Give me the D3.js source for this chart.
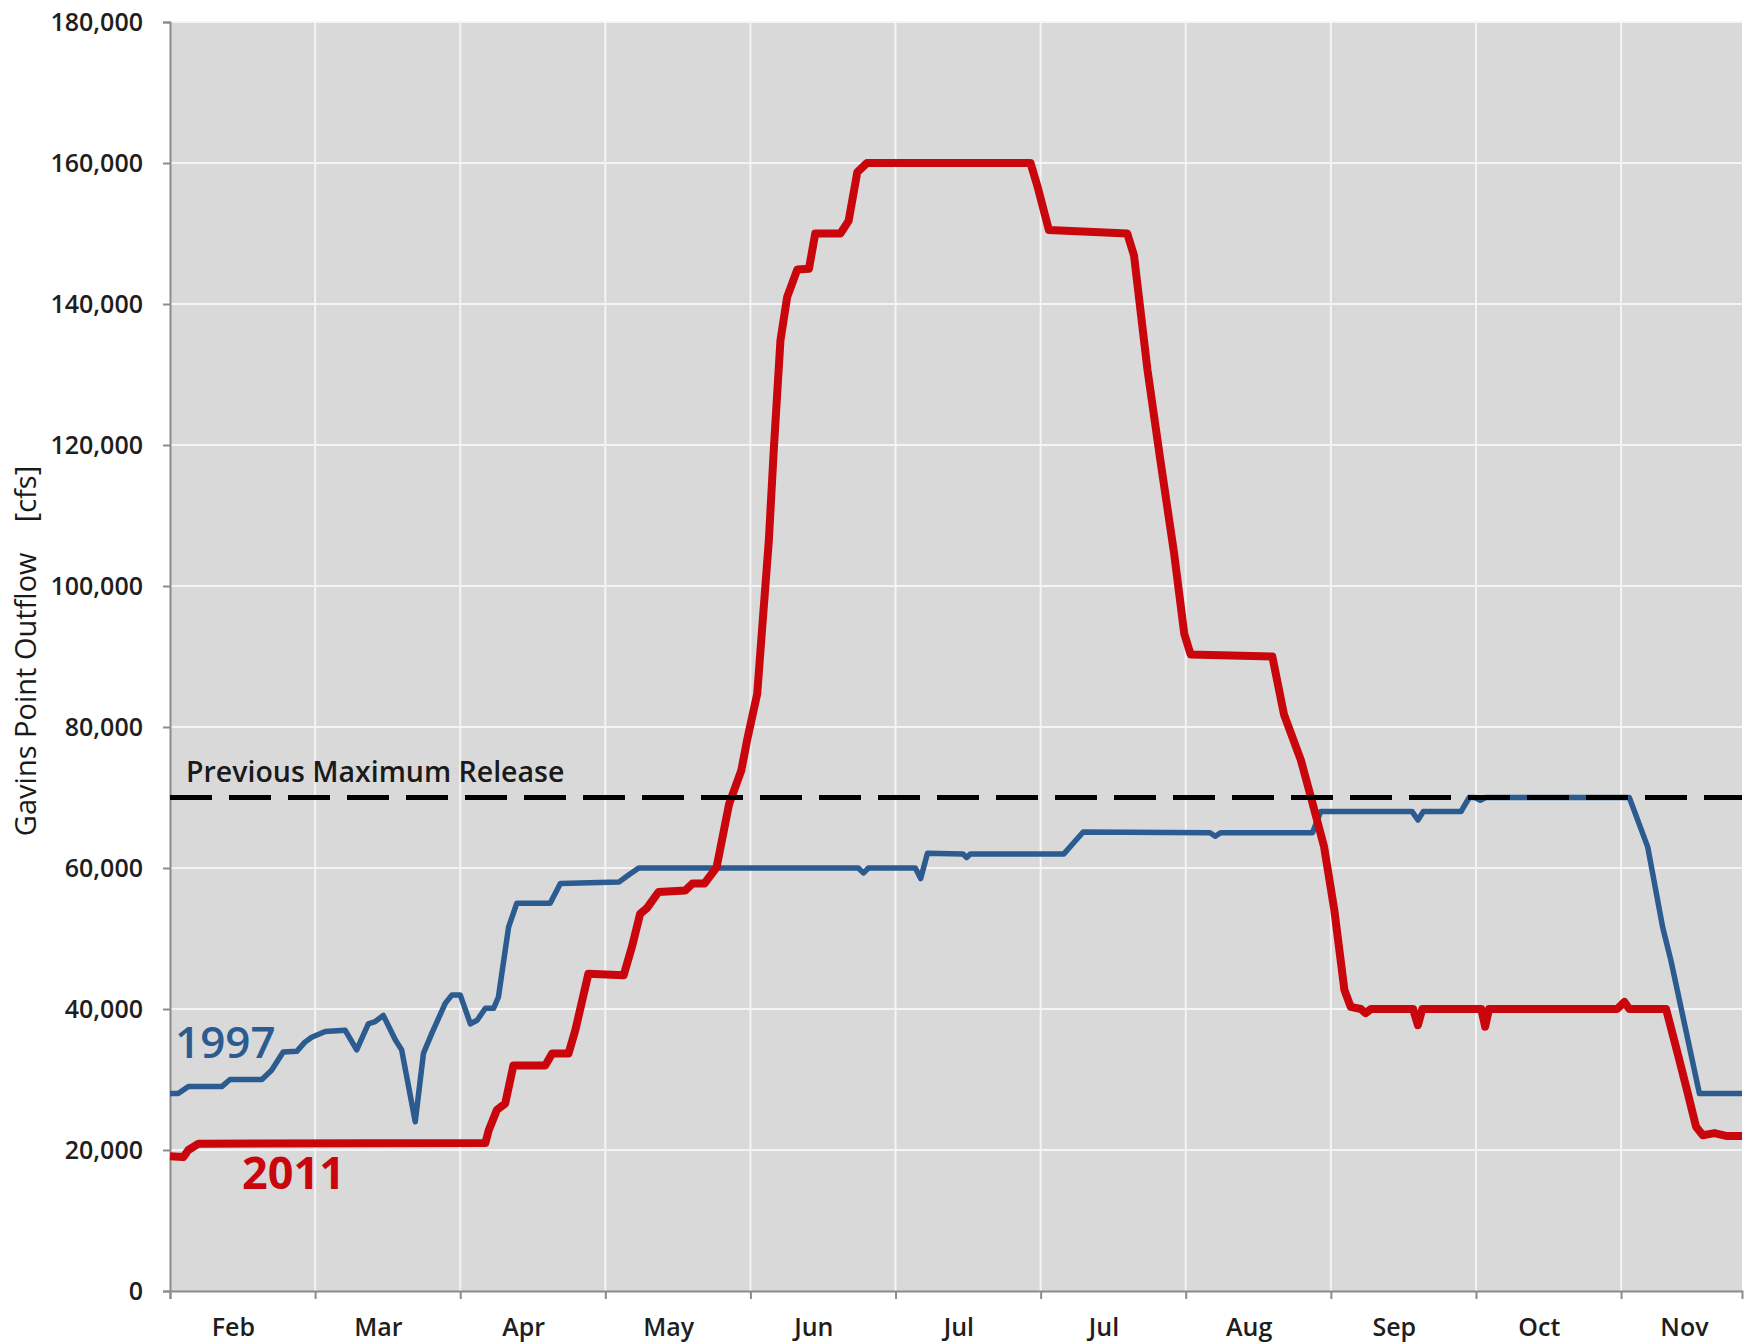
<!DOCTYPE html>
<html>
  <head>
    <style>
      body { margin: 0; background: #fff; }
      text { font-family: "Open Sans", sans-serif; fill: #262626; }
    </style>
  </head>
  <body>
    <script src="https://cdn.jsdelivr.net/npm/d3@7/dist/d3.min.js"></script>
    <script>
      // month labels sit between the 30-day gridlines (Jul shows up twice, as in the original)
      var monthLabels = ["Feb", "Mar", "Apr", "May", "Jun", "Jul", "Jul", "Aug", "Sep", "Oct", "Nov"];
      var gridDays = [0, 30, 60, 90, 120, 150, 180, 210, 240, 270, 300];
      var yTicks = [0, 20000, 40000, 60000, 80000, 100000, 120000, 140000, 160000, 180000];
      var previousMax = 70000;

      // 1997 outflow (day since start of axis, cfs)
      var days1997 = [0, 1.7, 3.8, 10.7, 12.4, 19, 21, 23.4, 26.2, 27.9, 29.3, 32.1, 36.2, 38.6, 41, 42.4, 44.1,
                      46.6, 47.9, 50.7, 52.4, 54.1, 56.9, 58.3, 60, 62.1, 63.5, 65.2, 66.9, 67.9, 70, 71.7, 78.6,
                      80.7, 92.8, 94.8, 96.9, 142.3, 143.4, 144.4, 154.1, 155.2, 156.6, 163.9, 164.7, 165.5,
                      184.8, 188.8, 215, 216.1, 217.2, 236.2, 237.9, 256.8, 258, 259.1, 266.9, 268.6, 269.8,
                      270.9, 272, 301.7, 305.5, 308.6, 310.3, 316.2, 325];
      var flow1997 = [28000, 28000, 29000, 29000, 30000, 30000, 31300, 33900, 34000, 35300, 36000, 36800, 37000,
                      34200, 37900, 38200, 39100, 35600, 34200, 24000, 33700, 36500, 40800, 42000, 42000, 37900,
                      38400, 40100, 40100, 41700, 51600, 55000, 55000, 57800, 58000, 59000, 60000, 60000, 59300,
                      60000, 60000, 58500, 62100, 62000, 61500, 62000, 62000, 65100, 65000, 64500, 65000, 65000,
                      68000, 68000, 66800, 68000, 68000, 70000, 70000, 69600, 70000, 70000, 63000, 51600, 46900,
                      28000, 28000];

      // 2011 outflow
      var days2011 = [0, 2.75, 3.8, 5.9, 65.2, 65.9, 67.6, 69.3, 71, 77.6, 79, 82.4, 83.8, 86.5, 93.8, 95.5, 97.2,
                      98.6, 101, 106.5, 108, 110.5, 113, 115.6, 118.1, 119.3, 121.4, 122.4, 123.8, 124.8, 126.2,
                      127.6, 129.7, 132.1, 133.4, 138.6, 140.3, 142.1, 144.1, 177.9, 179.3, 181.7, 197.9, 199.3,
                      202.1, 204.8, 207.6, 209.7, 211, 227.9, 230.3, 233.8, 235.9, 238.6, 240.7, 242.8, 244.1,
                      246.2, 247.2, 248.3, 257, 258, 258.9, 271.1, 271.9, 272.7, 299.2, 300.7, 301.7, 309.3,
                      311.7, 313.8, 315.5, 316.9, 319.3, 321.7, 325];
      var flow2011 = [19100, 19000, 20000, 20900, 21000, 22800, 25700, 26600, 32000, 32000, 33700, 33700, 37000,
                      45000, 44800, 48800, 53500, 54300, 56600, 56800, 57800, 57800, 60100, 69100, 73800, 78100,
                      84700, 93800, 106400, 119000, 134800, 141000, 144900, 145000, 150000, 150000, 151800,
                      158700, 160000, 160000, 156800, 150500, 150000, 146900, 130600, 117600, 104600, 93200,
                      90300, 90000, 81800, 75300, 70000, 63000, 54100, 42700, 40300, 40000, 39400, 40000, 40000,
                      37700, 40000, 40000, 37500, 40000, 40000, 41000, 40000, 40000, 33700, 28000, 23300, 22100,
                      22400, 22000, 22000];

      var width = 1752, height = 1343;
      var margin = { top: 22, right: 10, bottom: 52, left: 170 };

      var svg = d3.select("body")
          .append("svg")
          .attr("width", width)
          .attr("height", height);

      var x = d3.scaleLinear()
          .domain([0, 325])
          .range([margin.left, width - margin.right]);
      var y = d3.scaleLinear()
          .domain([0, 180000])
          .range([height - margin.bottom, margin.top]);

      // plot area
      svg.append("rect")
        .attr("x", x(0))
        .attr("y", y(180000))
        .attr("width", x(325) - x(0))
        .attr("height", y(0) - y(180000))
        .style("fill", "#d9d9d9");

      // gridlines
      svg.append("g")
        .selectAll("line")
        .data(yTicks.slice(1))
        .enter()
        .append("line")
        .attr("x1", x(0))
        .attr("x2", x(325))
        .attr("y1", function (d) { return y(d); })
        .attr("y2", function (d) { return y(d); })
        .style("stroke", "#f4f4f4")
        .style("stroke-width", 2);

      svg.append("g")
        .selectAll("line")
        .data(gridDays.slice(1))
        .enter()
        .append("line")
        .attr("x1", function (d) { return x(d); })
        .attr("x2", function (d) { return x(d); })
        .attr("y1", y(0))
        .attr("y2", y(180000))
        .style("stroke", "#f4f4f4")
        .style("stroke-width", 2);

      // axes
      svg.append("g")
        .attr("transform", "translate(" + x(0) + ",0)")
        .call(d3.axisLeft(y).tickValues(yTicks).tickFormat(d3.format(",")).tickSize(7).tickPadding(20));

      svg.append("g")
        .attr("transform", "translate(0," + y(0) + ")")
        .call(d3.axisBottom(x).tickValues(gridDays).tickFormat("").tickSize(8));

      var xLabels = svg.append("g")
        .attr("transform", "translate(0," + y(0) + ")")
        .call(d3.axisBottom(x)
          .tickValues(gridDays.map(function (d) { return d + 13; }))
          .tickFormat(function (d, i) { return monthLabels[i]; })
          .tickSize(0)
          .tickPadding(27));
      xLabels.select(".domain").remove();

      svg.selectAll(".domain, .tick line")
        .style("stroke", "#8c8c8c")
        .style("stroke-width", 2);

      svg.selectAll(".tick text")
        .style("font-size", "25px")
        .style("font-weight", 600)
        .style("fill", "#1e1e1e");

      // series
      var line = d3.line()
        .x(function (d) { return x(d[0]); })
        .y(function (d) { return y(d[1]); });

      svg.append("path")
        .datum(d3.zip(days1997, flow1997))
        .attr("d", line)
        .style("fill", "none")
        .style("stroke", "#2b5b8f")
        .style("stroke-width", 5.5)
        .style("stroke-linejoin", "round");

      svg.append("path")
        .datum(d3.zip(days2011, flow2011))
        .attr("d", line)
        .style("fill", "none")
        .style("stroke", "#c8060c")
        .style("stroke-width", 8)
        .style("stroke-linejoin", "round");

      // previous maximum release
      svg.append("line")
        .attr("x1", x(0))
        .attr("x2", x(325))
        .attr("y1", y(previousMax))
        .attr("y2", y(previousMax))
        .style("stroke", "#000")
        .style("stroke-width", 5)
        .style("stroke-dasharray", "42,17");

      svg.append("text")
        .attr("x", 186)
        .attr("y", y(previousMax) - 16)
        .style("font-size", "28.5px")
        .style("font-weight", 600)
        .style("fill", "#1a1a1a")
        .text("Previous Maximum Release");

      // series labels
      svg.append("text")
        .attr("x", 175)
        .attr("y", 1058)
        .style("font-size", "44px")
        .style("font-weight", 600)
        .style("fill", "#2b5b8f")
        .text("1997");

      svg.append("text")
        .attr("x", 242)
        .attr("y", 1189)
        .style("font-size", "45px")
        .style("font-weight", 700)
        .style("fill", "#c8060c")
        .text("2011");

      // y axis title
      svg.append("text")
        .attr("transform", "translate(36,651) rotate(-90)")
        .attr("text-anchor", "middle")
        .style("font-size", "29px")
        .style("fill", "#1a1a1a")
        .text("Gavins Point Outflow\u00a0\u00a0\u00a0\u00a0[cfs]");
    </script>
  </body>
</html>
